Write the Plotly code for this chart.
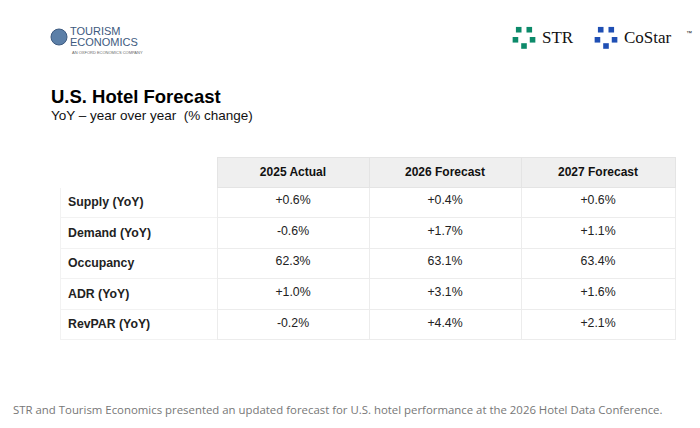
import plotly.graph_objects as go
import math

columns = ["", "2025 Actual", "2026 Forecast", "2027 Forecast"]
metrics = ["Supply (YoY)", "Demand (YoY)", "Occupancy", "ADR (YoY)", "RevPAR (YoY)"]
v2025 = ["+0.6%", "-0.6%", "62.3%", "+1.0%", "-0.2%"]
v2026 = ["+0.4%", "+1.7%", "63.1%", "+3.1%", "+4.4%"]
v2027 = ["+0.6%", "+1.1%", "63.4%", "+1.6%", "+2.1%"]

W, H = 700, 428
F = "Liberation Sans, Arial, sans-serif"

fig = go.Figure()
fig.add_trace(go.Table(
    domain=dict(x=[60/W, 675/W], y=[(H-345)/H, (H-157)/H]),
    columnwidth=[157, 152, 152, 154],
    header=dict(values=["<b>%s</b>" % c for c in columns],
                fill_color=["white", "#efefef", "#efefef", "#efefef"],
                line_color=["white", "#e4e4e4", "#e4e4e4", "#e4e4e4"], height=30,
                font=dict(family=F, size=12, color="#111"), align="center"),
    cells=dict(values=[["<b>%s</b>" % m for m in metrics], v2025, v2026, v2027],
               fill_color="white", line_color=["#f2f2f2", "#ececec", "#ececec", "#ececec"], height=30.6,
               font=dict(family=F, size=12.3, color="#222"),
               align=["left", "center", "center", "center"]),
))

fig.update_xaxes(range=[0, W], visible=False)
fig.update_yaxes(range=[H, 0], visible=False)
fig.add_trace(go.Scatter(x=[], y=[]))

ann = []
def t(x, y, s, size, color="#000", anchor="left", fam=F):
    ann.append(dict(x=x, y=y, xref="x", yref="y", text=s, showarrow=False,
                    xanchor=anchor, yanchor="middle", font=dict(family=fam, size=size, color=color)))

t(49, 96, "<b>U.S. Hotel Forecast</b>", 18.5)
t(49, 115, "YoY – year over year  (% change)", 13.5, "#111")
t(11, 409, "STR and Tourism Economics presented an updated forecast for U.S. hotel performance at the 2026 Hotel Data Conference.",
  11.4, "#777", fam="Open Sans, sans-serif")
t(68, 31, "TOURISM", 11, "#3d5a80")
t(68, 42, "ECONOMICS", 11, "#3d5a80")
t(70, 52, "AN OXFORD ECONOMICS COMPANY", 4, "#666")
t(540, 37, "STR", 17, "#111", fam="Liberation Serif, serif")
t(622, 37, "CoStar", 17, "#111", fam="Liberation Serif, serif")
t(684, 33, "™", 6, "#111")
fig.update_layout(annotations=ann)

shapes = [dict(type="circle", xref="x", yref="y", x0=51, x1=67, y0=29, y1=45,
               fillcolor="#5b7fa8", line=dict(color="#3d5a80", width=1))]
def pent(cx, cy, color):
    out = []
    for k in range(5):
        a = math.radians(-90 + 72 * k + 36)
        x, y = cx + 9 * math.cos(a), cy + 9 * math.sin(a)
        out.append(dict(type="rect", xref="x", yref="y", x0=x-2.8, x1=x+2.8, y0=y-2.8, y1=y+2.8,
                        fillcolor=color, line=dict(width=0)))
    return out
shapes += pent(524, 37, "#0c8a6a")
shapes += pent(606, 37, "#1f4fb4")
fig.update_layout(shapes=shapes)

fig.update_layout(width=W, height=H, margin=dict(l=0, r=0, t=0, b=0),
                  paper_bgcolor="white", plot_bgcolor="white", showlegend=False)
fig.write_html("out.html", config={"displayModeBar": False},
               post_script="document.body.style.margin='0';")
